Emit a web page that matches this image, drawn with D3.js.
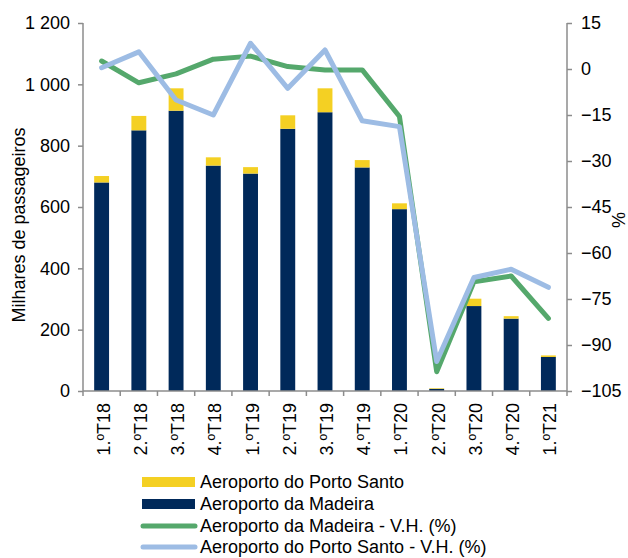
<!DOCTYPE html>
<html><head><meta charset="utf-8">
<script src="https://cdn.jsdelivr.net/npm/d3@7"></script>
<style>body{margin:0;background:#fff}svg{display:block}text{font-family:"Liberation Sans",Arial,sans-serif}</style>
</head><body><svg id="c" width="628" height="558"></svg>
<script>
const categories = ["1.ºT18","2.ºT18","3.ºT18","4.ºT18","1.ºT19","2.ºT19","3.ºT19","4.ºT19","1.ºT20","2.ºT20","3.ºT20","4.ºT20","1.ºT21"];
const madeira = [680, 850, 914, 735, 709, 855, 909, 729, 593, 7, 277, 236, 111];
const portoSanto = [21, 47, 73, 27, 21, 44, 78, 24, 19, 2, 24, 8, 5];
const madeiraVH = [2.6, -4.5, -1.6, 3.2, 4.2, 0.8, -0.3, -0.3, -15.5, -98.7, -69.4, -67.5, -81.3];
const portoSantoVH = [0.4, 5.6, -10.1, -15, 8.4, -6.3, 6.2, -16.9, -18.8, -95.4, -68, -65.3, -71.2];
const leftTicks = [0, 200, 400, 600, 800, 1000, 1200];
const rightTicks = [15, 0, -15, -30, -45, -60, -75, -90, -105];
const legendLabels = ["Aeroporto do Porto Santo","Aeroporto da Madeira","Aeroporto da Madeira - V.H. (%)","Aeroporto do Porto Santo - V.H. (%)"];

const C = {ps:"#F4D023", ma:"#00295A", gr:"#55A86C", bl:"#9DBCE4", ax:"#8C8C8C"};
const svg = d3.select("#c");
const L = 83, R = 567, T = 23, B = 391;
const x = d3.scaleBand().domain(categories).range([L, R]).paddingInner(0.6).paddingOuter(0.3);
const xb = d3.scaleBand().domain(categories).range([L, R]);
const yL = d3.scaleLinear().domain([0, 1200]).range([B, T]);
const yR = d3.scaleLinear().domain([-105, 15]).range([B, T]);
const fs = "18px";

// bars
const g = svg.append("g");
categories.forEach((c, i) => {
  g.append("rect").attr("x", x(c)).attr("width", x.bandwidth())
    .attr("y", yL(madeira[i])).attr("height", yL(0) - yL(madeira[i])).attr("fill", C.ma);
  g.append("rect").attr("x", x(c)).attr("width", x.bandwidth())
    .attr("y", yL(madeira[i] + portoSanto[i])).attr("height", yL(madeira[i]) - yL(madeira[i] + portoSanto[i])).attr("fill", C.ps);
});

// lines
const cx = c => xb(c) + xb.bandwidth() / 2;
const lineG = d3.line().x((d, i) => cx(categories[i])).y(d => yR(d));
svg.append("path").attr("d", lineG(madeiraVH)).attr("fill", "none").attr("stroke", C.gr)
  .attr("stroke-width", 5).attr("stroke-linejoin", "round").attr("stroke-linecap", "round");
svg.append("path").attr("d", lineG(portoSantoVH)).attr("fill", "none").attr("stroke", C.bl)
  .attr("stroke-width", 5).attr("stroke-linejoin", "round").attr("stroke-linecap", "round");

// axes
const ax = svg.append("g").attr("transform", `translate(${L},0)`)
  .call(d3.axisLeft(yL).tickValues(leftTicks).tickSize(5).tickPadding(8)
    .tickFormat(d => d3.format(",")(d).replace(/,/g, " ")));
const ar = svg.append("g").attr("transform", `translate(${R},0)`)
  .call(d3.axisRight(yR).tickValues(rightTicks).tickSize(5).tickPadding(9));
const boundaries = d3.range(categories.length + 1).map(i => L + i * xb.step());
const axb = svg.append("g").attr("transform", `translate(0,${B})`);
axb.append("line").attr("x1", L).attr("x2", R).attr("stroke", C.ax).attr("stroke-width", 1.5);
axb.selectAll("line.t").data(boundaries).enter().append("line").attr("class", "t")
  .attr("x1", d => d).attr("x2", d => d).attr("y1", 0).attr("y2", 5).attr("stroke", C.ax).attr("stroke-width", 1.5);
axb.selectAll("text").data(categories).enter().append("text")
  .attr("transform", c => `translate(${cx(c) + 8},12) rotate(-90)`)
  .attr("text-anchor", "end").attr("font-size", fs).attr("fill", "#000").text(c => c);

[ax, ar].forEach(a => {
  a.select(".domain").attr("stroke", C.ax).attr("stroke-width", 1.5).attr("d", `M0,${T}V${B}`);
  a.selectAll(".tick line").attr("stroke", C.ax).attr("stroke-width", 1.5);
  a.selectAll(".tick text").attr("font-size", fs).attr("fill", "#000").style("font-family", '"Liberation Sans",Arial,sans-serif');
});

svg.append("text").attr("transform", `translate(25,225) rotate(-90)`)
  .attr("text-anchor", "middle").attr("font-size", fs).text("Milhares de passageiros");
svg.append("text").attr("transform", `translate(612,220) rotate(90)`)
  .attr("text-anchor", "middle").attr("font-size", fs).text("%");

// legend
const lg = svg.append("g");
const ly = [482, 504, 526, 547];
const types = ["rect", "rect", "line", "line"];
const cols = [C.ps, C.ma, C.gr, C.bl];
legendLabels.forEach((t, i) => {
  if (types[i] === "rect") {
    lg.append("rect").attr("x", 142).attr("y", ly[i] - 5).attr("width", 53).attr("height", 10).attr("fill", cols[i]);
  } else {
    lg.append("line").attr("x1", 143).attr("x2", 195).attr("y1", ly[i]).attr("y2", ly[i])
      .attr("stroke", cols[i]).attr("stroke-width", 5).attr("stroke-linecap", "round");
  }
  lg.append("text").attr("x", 200).attr("y", ly[i] + 6).attr("font-size", fs).text(t);
});
</script></body></html>
